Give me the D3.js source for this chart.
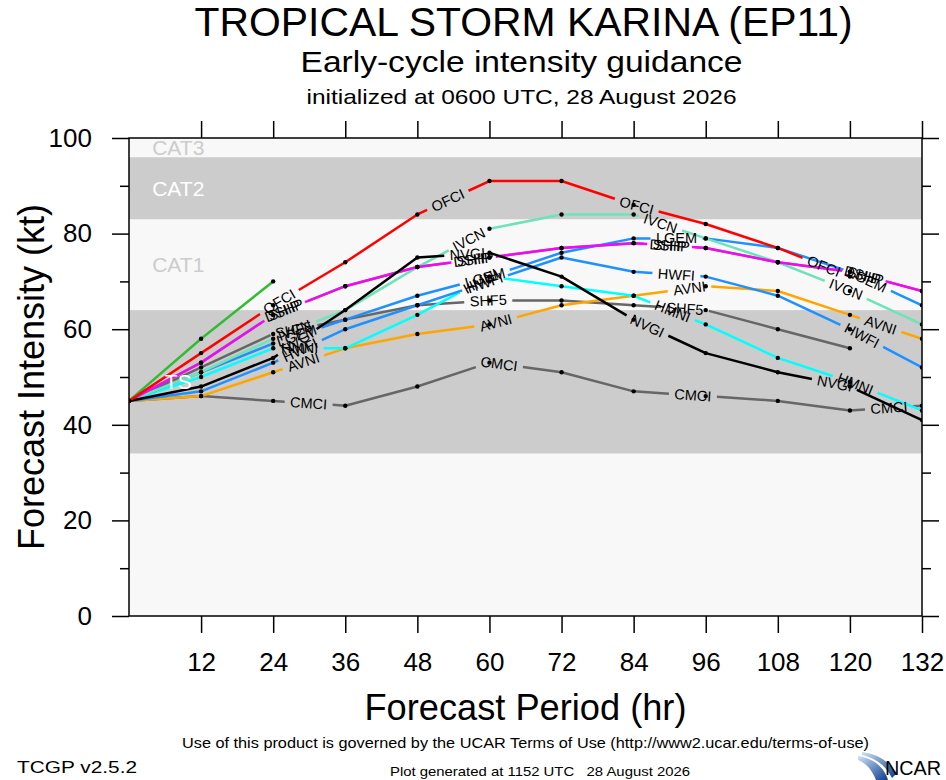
<!DOCTYPE html>
<html>
<head>
<meta charset="utf-8">
<script src="https://cdn.jsdelivr.net/npm/d3@7"></script>
<style>
  body { margin: 0; background: #fff; }
  svg { display: block; font-family: "Liberation Sans", Arial, Helvetica, sans-serif; }
</style>
</head>
<body>
<div id="chart"></div>
<script>
//////////DATA//////////
const hours = [0, 12, 24, 36, 48, 60, 72, 84, 96, 108, 120, 132];
const xTickValues = [12, 24, 36, 48, 60, 72, 84, 96, 108, 120, 132];
const yTickValues = [0, 20, 40, 60, 80, 100];
const yMinorValues = [10, 30, 50, 70, 90];

// intensity category bands (kt)
const bandEdges = [0, 34, 64, 83, 96, 113];
const bandNames = ["", "TS", "CAT1", "CAT2", "CAT3"];

// model forecasts (kt), null = no forecast
const OCD5 = [45, 58, 70];
const DSHP = [45, 53, 63, 69, 73, 75, 77, 78, 77, 74, 72, 68];
const SHF5 = [45, 52, 59, 62, 65, 66, 66, 65, 64, 60, 56, null];
const CMCI = [45, 46, 45, 44, 48, 53, 51, 47, 46, 45, 43, 44];
const AVNI = [45, 46, 51, 56, 59, 61, 65, 67, 69, 68, 63, 58];
const HMNI = [45, 50, 56, 56, 63, 71, 69, 67, 61, 54, 49, 43];
const HWFI = [45, 47, 53, 60, 65, 70, 75, 72, 71, 67, 60, 52];
const LGEM = [45, 51, 57, 62, 67, 71, 76, 79, 79, 77, 72, 65];
const IVCN = [45, 51, 58, 64, 73, 81, 84, 84, 79, 74, 68, 61];
const SHIP = [45, 53, 63, 69, 73, 75, 77, 78, 77, 74, 72, 68];
const NVGI = [45, 48, 54, 64, 75, 76, 71, 62, 55, 51, 48, 41];
const OFCI = [45, 55, 65, 74, 84, 91, 91, 86, 82, 77, 71, null];

const seriesNames = ["OCD5", "DSHP", "SHF5", "CMCI", "AVNI", "HMNI", "HWFI", "LGEM", "IVCN", "SHIP", "NVGI", "OFCI"];
const seriesValues = [OCD5, DSHP, SHF5, CMCI, AVNI, HMNI, HWFI, LGEM, IVCN, SHIP, NVGI, OFCI];
const seriesColors = ["#33bb33", "#00dd00", "#666666", "#666666", "#ffa500", "#00ffff", "#1e90ff", "#1e90ff", "#6ee3b8", "#ff00ff", "#000000", "#ff0000"];

//////////CODE//////////
const svgObj = { width: 946, height: 780 };
const plot = { left: 129, right: 922, top: 138, bottom: 616 };

const svg = d3.select("#chart").append("svg")
  .attr("width", svgObj.width)
  .attr("height", svgObj.height);

const x = d3.scaleLinear().domain([0, 132]).range([plot.left, plot.right]);
const y = d3.scaleLinear().domain([0, 100]).range([plot.bottom, plot.top]);

// clip for plot area
svg.append("clipPath").attr("id", "plotclip")
  .append("rect")
  .attr("x", plot.left).attr("y", plot.top)
  .attr("width", plot.right - plot.left).attr("height", plot.bottom - plot.top);

const plotGroup = svg.append("g").attr("clip-path", "url(#plotclip)");
const bandGroup = plotGroup.append("g");
const lineGroup = plotGroup.append("g");
const bandLabelGroup = plotGroup.append("g");
const labelGroup = plotGroup.append("g").attr("font-size", 14.5).attr("fill", "black");
const dotGroup = plotGroup.append("g");

// bands
const bandFill = ["#f8f8f8", "#cccccc", "#f8f8f8", "#cccccc", "#f8f8f8"];
const bandText = ["#cccccc", "#ffffff", "#cccccc", "#ffffff", "#cccccc"];
for (let i = 0; i < bandNames.length; i++) {
  const lo = bandEdges[i], hi = bandEdges[i + 1];
  bandGroup.append("rect")
    .attr("x", x(0))
    .attr("y", y(hi))
    .attr("width", x(132) - x(0))
    .attr("height", y(lo) - y(hi))
    .attr("fill", bandFill[i]);
  if (bandNames[i]) {
    const mid = (lo + Math.min(hi, 100)) / 2;
    bandLabelGroup.append("text")
      .attr("x", x(8.2))
      .attr("y", y(mid))
      .attr("text-anchor", "middle")
      .attr("dominant-baseline", "central")
      .attr("font-size", 21)
      .attr("fill", bandText[i])
      .text(bandNames[i]);
  }
}

// lines
const line = d3.line().x(d => x(d[0])).y(d => y(d[1]));

const labelFirst = 180; // arc length (px) of first label
const labelStep = 197;  // arc length between labels

seriesNames.forEach((name, si) => {
  const pts = hours.map((h, i) => [h, seriesValues[si][i]])
    .filter(p => p[1] !== undefined && p[1] !== null);

  const path = lineGroup.append("path")
    .datum(pts)
    .attr("d", line)
    .attr("fill", "none")
    .attr("stroke", seriesColors[si])
    .attr("stroke-width", 2.5)
    .attr("stroke-linejoin", "round");

  const node = path.node();
  const total = node.getTotalLength();

  const tmp = labelGroup.append("text").text(name);
  const w = tmp.node().getComputedTextLength();
  tmp.remove();
  const gap = w + 11;

  const stops = [];
  for (let d = labelFirst; d + w / 2 < total; d += labelStep) stops.push(d);

  if (stops.length) {
    const dash = [];
    let prev = 0;
    stops.forEach(d => {
      dash.push(Math.max(0, d - gap / 2 - prev), gap);
      prev = d + gap / 2;
    });
    dash.push(total, 0);
    path.attr("stroke-dasharray", dash.join(" "));
  }

  stops.forEach(d => {
    const p = node.getPointAtLength(d);
    const a = node.getPointAtLength(Math.max(0, d - 3));
    const b = node.getPointAtLength(Math.min(total, d + 3));
    const ang = Math.atan2(b.y - a.y, b.x - a.x) * 180 / Math.PI;
    labelGroup.append("text")
      .attr("transform", `translate(${p.x},${p.y}) rotate(${ang})`)
      .attr("text-anchor", "middle")
      .attr("dominant-baseline", "central")
      .text(name);
  });

  dotGroup.selectAll(null)
    .data(pts)
    .enter()
    .append("circle")
    .attr("cx", d => x(d[0]))
    .attr("cy", d => y(d[1]))
    .attr("r", 2.2)
    .attr("fill", "black");
});

// axes
const styleAxis = g => {
  g.select(".domain").remove();
  g.selectAll("line").attr("stroke", "black").attr("stroke-width", 1.5);
  g.attr("font-size", 26).attr("font-family", null);
  g.selectAll("text").attr("fill", "black");
};

svg.append("g")
  .attr("transform", `translate(${plot.left},0)`)
  .call(d3.axisLeft(y).tickValues(yTickValues).tickSize(17).tickPadding(20))
  .call(styleAxis);
svg.append("g")
  .attr("transform", `translate(${plot.left},0)`)
  .call(d3.axisLeft(y).tickValues(yMinorValues).tickSize(9).tickFormat(""))
  .call(styleAxis);
svg.append("g")
  .attr("transform", `translate(${plot.right},0)`)
  .call(d3.axisRight(y).tickValues(yTickValues).tickSize(17).tickFormat(""))
  .call(styleAxis);
svg.append("g")
  .attr("transform", `translate(${plot.right},0)`)
  .call(d3.axisRight(y).tickValues(yMinorValues).tickSize(9).tickFormat(""))
  .call(styleAxis);
svg.append("g")
  .attr("transform", `translate(0,${plot.bottom})`)
  .call(d3.axisBottom(x).tickValues(xTickValues).tickSize(17).tickPadding(20))
  .call(styleAxis);
svg.append("g")
  .attr("transform", `translate(0,${plot.top})`)
  .call(d3.axisTop(x).tickValues(xTickValues).tickSize(17).tickFormat(""))
  .call(styleAxis);

// frame
svg.append("rect")
  .attr("x", plot.left).attr("y", plot.top)
  .attr("width", plot.right - plot.left).attr("height", plot.bottom - plot.top)
  .attr("fill", "none").attr("stroke", "black").attr("stroke-width", 1.5);

// titles
const cx = (plot.left + plot.right) / 2;
const addText = (txt, tx, ty, size, len, anchor) => {
  const t = svg.append("text")
    .attr("x", tx).attr("y", ty)
    .attr("font-size", size)
    .attr("text-anchor", anchor || "middle")
    .attr("fill", "black")
    .text(txt);
  if (len) t.attr("textLength", len).attr("lengthAdjust", "spacingAndGlyphs");
  return t;
};

addText("TROPICAL STORM KARINA (EP11)", cx - 2, 36, 41, 658);
addText("Early-cycle intensity guidance", cx - 4, 72, 29, 442);
addText("initialized at 0600 UTC, 28 August 2026", cx - 4, 104, 21, 430);
addText("Forecast Period (hr)", cx, 720, 36, 322);

svg.append("text")
  .attr("transform", `translate(44,${(plot.top + plot.bottom) / 2}) rotate(-90)`)
  .attr("text-anchor", "middle")
  .attr("font-size", 36)
  .attr("fill", "black")
  .text("Forecast Intensity (kt)");

addText("Use of this product is governed by the UCAR Terms of Use (http://www2.ucar.edu/terms-of-use)", cx, 748, 15, 687);
addText("TCGP v2.5.2", 17, 773, 17, 120, "start");
addText("Plot generated at 1152 UTC   28 August 2026", 540, 776, 13, 300).attr("xml:space", "preserve");

// NCAR logo
const logo = svg.append("g");
const grad = svg.append("defs").append("linearGradient").attr("id", "ncarblue")
  .attr("x1", "0").attr("y1", "0").attr("x2", "1").attr("y2", "1");
grad.append("stop").attr("offset", "0").attr("stop-color", "#cfe3f5");
grad.append("stop").attr("offset", "1").attr("stop-color", "#0a3d8f");
logo.append("path")
  .attr("d", "M858,756 C872,758 884,766 888,780 L876,780 C872,770 866,763 858,760 Z")
  .attr("fill", "url(#ncarblue)");
logo.append("path")
  .attr("d", "M862,752 C878,754 890,762 896,774 L892,778 C886,766 876,758 862,755 Z")
  .attr("fill", "url(#ncarblue)");
logo.append("text")
  .attr("x", 885).attr("y", 775)
  .attr("font-size", 21)
  .attr("fill", "black")
  .attr("textLength", 56).attr("lengthAdjust", "spacingAndGlyphs")
  .text("NCAR");
</script>
</body>
</html>
